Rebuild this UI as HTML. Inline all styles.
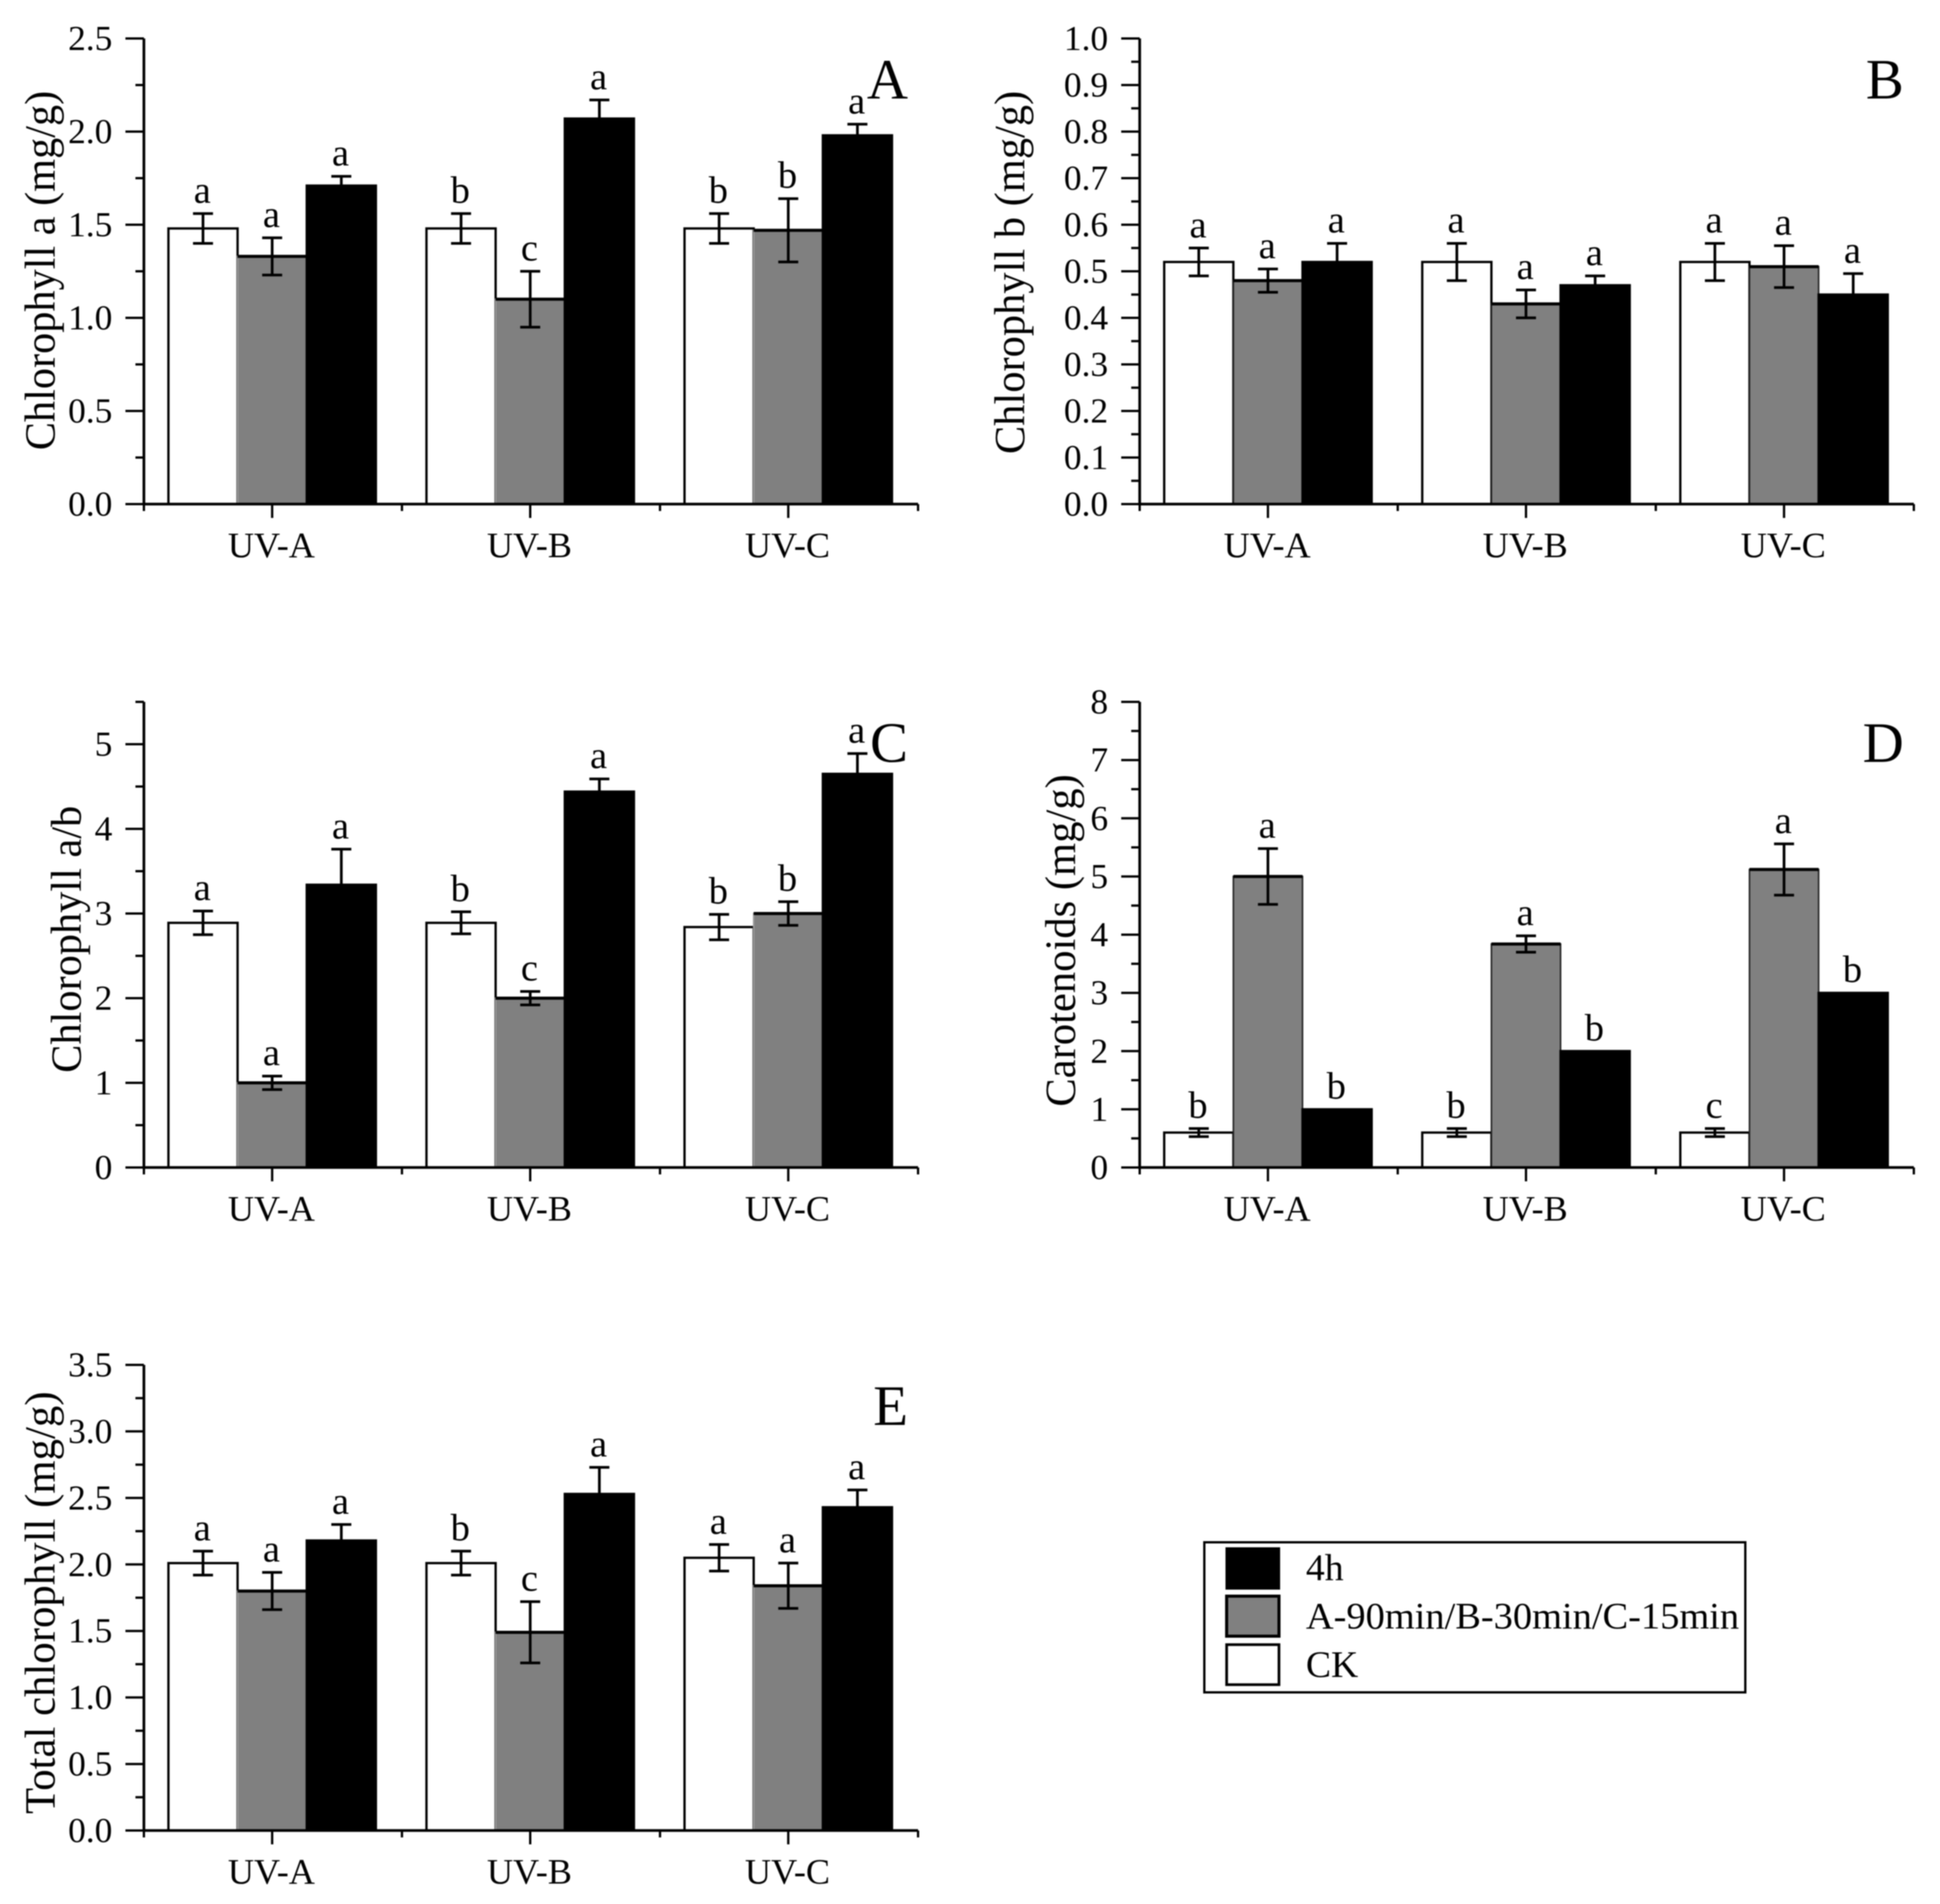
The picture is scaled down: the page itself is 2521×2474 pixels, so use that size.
<!DOCTYPE html>
<html lang="en">
<head>
<meta charset="utf-8">
<title>Chlorophyll and carotenoid content under UV treatments</title>
<style>
html,body{margin:0;padding:0;background:#fff;width:2521px;height:2474px;overflow:hidden}
svg{display:block;filter:blur(0.7px)}
text{font-family:"Liberation Serif",serif;fill:#000}
</style>
</head>
<body>
<svg id="figure" xmlns="http://www.w3.org/2000/svg" width="2521" height="2474" viewBox="0 0 2521 2474">
  <rect x="0" y="0" width="2521" height="2474" fill="#fff"/>
  <g id="legend">
    <rect x="1565" y="2004" width="703" height="195" fill="#fff" stroke="#000" stroke-width="3"/>
    <rect x="1594" y="2012" width="68" height="52" fill="#000" stroke="#000" stroke-width="3"/>
    <text x="1697" y="2053" font-size="49">4h</text>
    <rect x="1594" y="2074" width="68" height="52" fill="#808080" stroke="#000" stroke-width="4"/>
    <text x="1697" y="2116" font-size="49" textLength="563" lengthAdjust="spacingAndGlyphs">A-90min/B-30min/C-15min</text>
    <rect x="1594" y="2137" width="68" height="52" fill="#fff" stroke="#000" stroke-width="3.5"/>
    <text x="1697" y="2179" font-size="49">CK</text>
  </g>
</svg>
<script>
const categories = ['UV-A', 'UV-B', 'UV-C'];
const seriesNames = ['ck', 'treatment', '4h'];

const chlAValues = [[1.48, 1.48, 1.48], [1.33, 1.10, 1.47], [1.71, 2.07, 1.98]];
const chlAErrors = [[0.08, 0.08, 0.08], [0.10, 0.15, 0.17], [0.05, 0.10, 0.06]];
const chlALetters = [['a', 'b', 'b'], ['a', 'c', 'b'], ['a', 'a', 'a']];
const chlATicks = ['0.0', '0.5', '1.0', '1.5', '2.0', '2.5'];

const chlBValues = [[0.52, 0.52, 0.52], [0.48, 0.43, 0.51], [0.52, 0.47, 0.45]];
const chlBErrors = [[0.03, 0.04, 0.04], [0.025, 0.03, 0.045], [0.04, 0.02, 0.045]];
const chlBLetters = [['a', 'a', 'a'], ['a', 'a', 'a'], ['a', 'a', 'a']];
const chlBTicks = ['0.0', '0.1', '0.2', '0.3', '0.4', '0.5', '0.6', '0.7', '0.8', '0.9', '1.0'];

const ratioValues = [[2.89, 2.89, 2.84], [1.00, 2.00, 3.00], [3.34, 4.44, 4.65]];
const ratioErrors = [[0.14, 0.13, 0.15], [0.08, 0.08, 0.14], [0.42, 0.15, 0.24]];
const ratioLetters = [['a', 'b', 'b'], ['a', 'c', 'b'], ['a', 'a', 'a']];
const ratioTicks = ['0', '1', '2', '3', '4', '5'];

const carotenoidValues = [[0.60, 0.60, 0.60], [5.00, 3.84, 5.12], [1.00, 2.00, 3.00]];
const carotenoidErrors = [[0.07, 0.07, 0.07], [0.48, 0.14, 0.44], [0, 0, 0]];
const carotenoidLetters = [['b', 'b', 'c'], ['a', 'a', 'a'], ['b', 'b', 'b']];
const carotenoidTicks = ['0', '1', '2', '3', '4', '5', '6', '7', '8'];

const totalValues = [[2.01, 2.01, 2.05], [1.80, 1.49, 1.84], [2.18, 2.53, 2.43]];
const totalErrors = [[0.09, 0.09, 0.10], [0.14, 0.23, 0.17], [0.12, 0.20, 0.13]];
const totalLetters = [['a', 'b', 'a'], ['a', 'c', 'a'], ['a', 'a', 'a']];
const totalTicks = ['0.0', '0.5', '1.0', '1.5', '2.0', '2.5', '3.0', '3.5'];

const panels = [
  {id: 'a', letter: 'A', title: 'Chlorophyll a (mg/g)', values: chlAValues, errors: chlAErrors, letters: chlALetters, ticks: chlATicks, yMax: 2.5, step: 0.5, minor: 0.25, left: 187, top: 50, titleX: 71, titleY: 585, titleLen: 467, grayEdge: '#9a9a9a'},
  {id: 'b', letter: 'B', title: 'Chlorophyll b (mg/g)', values: chlBValues, errors: chlBErrors, letters: chlBLetters, ticks: chlBTicks, yMax: 1.0, step: 0.1, minor: 0.05, left: 1481, top: 50, titleX: 1331, titleY: 590, titleLen: 472, grayEdge: '#222'},
  {id: 'c', letter: 'C', title: 'Chlorophyll a/b', values: ratioValues, errors: ratioErrors, letters: ratioLetters, ticks: ratioTicks, yMax: 5.5, step: 1, minor: 0.5, left: 187, top: 912, titleX: 105, titleY: 1394, titleLen: 347, grayEdge: '#9a9a9a'},
  {id: 'd', letter: 'D', title: 'Carotenoids (mg/g)', values: carotenoidValues, errors: carotenoidErrors, letters: carotenoidLetters, ticks: carotenoidTicks, yMax: 8, step: 1, minor: 0.5, left: 1481, top: 912, titleX: 1397, titleY: 1438, titleLen: 432, grayEdge: '#222'},
  {id: 'e', letter: 'E', title: 'Total chlorophyll (mg/g)', values: totalValues, errors: totalErrors, letters: totalLetters, ticks: totalTicks, yMax: 3.5, step: 0.5, minor: 0.25, left: 187, top: 1773.5, titleX: 71, titleY: 2357, titleLen: 549, grayEdge: '#9a9a9a'}
];

const plotWidth = 1006;
const plotHeight = 605;
const SVG_NS = 'http://www.w3.org/2000/svg';
const figure = document.getElementById('figure');
const legendNode = document.getElementById('legend');

function make(tag, attrs, parent, content) {
  const node = document.createElementNS(SVG_NS, tag);
  Object.keys(attrs).forEach(function (k) { node.setAttribute(k, attrs[k]); });
  if (content !== undefined) node.textContent = content;
  parent.appendChild(node);
  return node;
}

panels.forEach(function (p) {
  const base = p.top + plotHeight;
  const right = p.left + plotWidth;
  const band = plotWidth / categories.length;
  const barW = band * 0.268;
  const yScale = function (v) { return base - (v / p.yMax) * plotHeight; };
  const xCenter = function (c) { return p.left + band * (c + 0.5) - 1; };
  const barX = function (c, s) { return xCenter(c) + (s - 1.5) * barW; };

  const g = make('g', {}, figure);
  
  
  figure.insertBefore(g, legendNode);

  p.values.forEach(function (row, s) {
    row.forEach(function (v, c) {
      const x = barX(c, s);
      const y = yScale(v);
      const fill = s === 0 ? '#fff' : (s === 1 ? '#808080' : '#000');
      const stroke = s === 0 ? '#000' : (s === 1 ? p.grayEdge : '#000');
      const bar = make('rect', {x: x, y: y, width: barW, height: base - y, fill: fill, stroke: stroke, 'stroke-width': s === 1 ? 2 : 3}, g);
      
      
      if (s === 1) {
        const cap = make('line', {x1: x, x2: x + barW, y1: y, y2: y, stroke: '#000', 'stroke-width': 4}, g);
        
        
      }
    });
  });

  p.values.forEach(function (row, s) {
    row.forEach(function (v, c) {
      const cx = barX(c, s) + barW / 2;
      const err = p.errors[s][c];
      const topY = yScale(v + err);
      if (err > 0) {
        const botY = yScale(v - err);
        const whisker = make('path', {d: 'M' + (cx - 13) + ' ' + topY + 'H' + (cx + 13) + 'M' + cx + ' ' + topY + 'V' + botY + 'M' + (cx - 13) + ' ' + botY + 'H' + (cx + 13), fill: 'none', stroke: '#000', 'stroke-width': 3.5}, g);
        
        
      }
      const mark = make('text', {x: cx - 1, y: topY - 14, 'font-size': 50, 'text-anchor': 'middle'}, g, p.letters[s][c]);
      
      
    });
  });

  const axisPath = make('path', {d: 'M' + p.left + ' ' + p.top + 'V' + base + 'H' + right, fill: 'none', stroke: '#000', 'stroke-width': 3.5}, g);
  
  

  const minorCount = Math.round(p.yMax / p.minor);
  for (let i = 0; i <= minorCount; i++) {
    const val = i * p.minor;
    const isMajor = Math.abs(val / p.step - Math.round(val / p.step)) < 1e-6;
    const tick = make('line', {x1: p.left - (isMajor ? 24 : 11), x2: p.left, y1: yScale(val), y2: yScale(val), stroke: '#000', 'stroke-width': 3}, g);
    
    
  }

  p.ticks.forEach(function (label, i) {
    const t = make('text', {x: p.left - 41, y: yScale(i * p.step) + 15, 'font-size': 46, 'text-anchor': 'end'}, g, label);
    
    
  });

  categories.forEach(function (cat, c) {
    const cx = xCenter(c);
    const tick = make('line', {x1: cx, x2: cx, y1: base, y2: base + 18, stroke: '#000', 'stroke-width': 3}, g);
    
    
    const lab = make('text', {x: cx - 1, y: base + 69, 'font-size': 47, 'text-anchor': 'middle'}, g, cat);
    
    
  });
  for (let c = 0; c <= categories.length; c++) {
    const bx = p.left + band * c;
    const tick = make('line', {x1: bx, x2: bx, y1: base, y2: base + 9, stroke: '#000', 'stroke-width': 3}, g);
    
    
  }

  const title = make('text', {x: 0, y: 0, 'font-size': 56, textLength: p.titleLen, lengthAdjust: 'spacingAndGlyphs', transform: 'translate(' + p.titleX + ' ' + p.titleY + ') rotate(-90)'}, g, p.title);
  
  

  const panelLabel = make('text', {x: right - 13, y: p.top + 78, 'font-size': 74, 'text-anchor': 'end'}, g, p.letter);
  
  
});
</script>
</body>
</html>
